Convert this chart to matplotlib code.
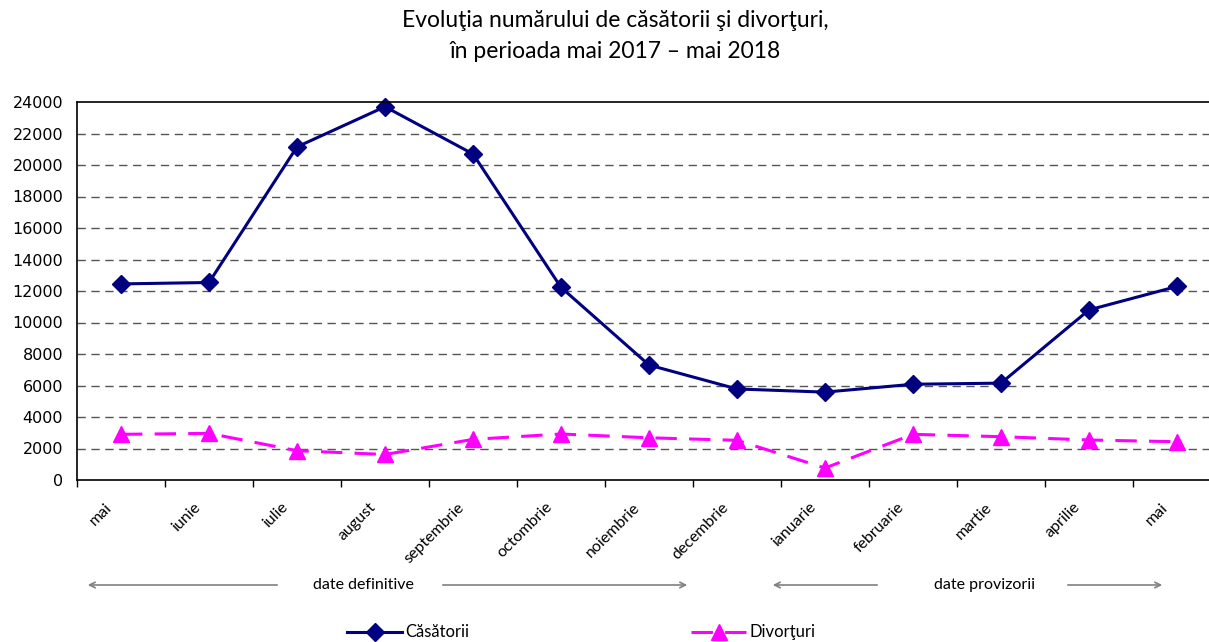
import matplotlib.pyplot as plt
import matplotlib.transforms as mtransforms
import numpy as np

# data
luni = ["mai", "iunie", "iulie", "august", "septembrie", "octombrie", "noiembrie",
        "decembrie", "ianuarie", "februarie", "martie", "aprilie", "mai"]
casatorii = [12450, 12540, 21150, 23700, 20700, 12230, 7300,
             5780, 5580, 6080, 6150, 10800, 12290]
divorturi = [2900, 2960, 1860, 1620, 2580, 2920, 2680,
             2520, 760, 2900, 2750, 2540, 2430]

fig = plt.figure(figsize=(12.09, 6.42), dpi=100)
# the plot area runs a bit past the right edge, as in the reference
ax = fig.add_axes([77 / 1209, 1 - 480 / 642, 1144 / 1209, 378 / 642])

x = np.arange(len(luni))
ax.plot(x, casatorii, color='#000080', lw=2.2, marker='D', markersize=9,
        label='Căsătorii', clip_on=False)
ax.plot(x, divorturi, color='#FF00FF', lw=2.2, marker='^', markersize=11,
        dashes=(7, 4), label='Divorţuri', clip_on=False)

ax.set_xlim(-0.5, len(luni) - 0.5)
ax.set_ylim(0, 24000)
ax.set_yticks(np.arange(0, 24001, 2000))
ax.tick_params(axis='y', length=0, labelsize=11.5, pad=10)

ax.set_xticks(x)
ax.set_xticklabels(luni, rotation=45, ha='right', va='center', rotation_mode='anchor',
                   fontsize=11.5, family='Lato')
ax.tick_params(axis='x', which='major', length=0, pad=18)
shift = mtransforms.ScaledTranslation(-11 / 100, 0, fig.dpi_scale_trans)
for lab in ax.get_xticklabels():
    lab.set_transform(lab.get_transform() + shift)
ax.set_xticks(np.arange(-0.5, len(luni), 1), minor=True)
ax.tick_params(axis='x', which='minor', length=5, width=1, direction='out')

for v in range(2000, 24000, 2000):
    ax.axhline(v, color='#555555', lw=1, dashes=(6, 4), zorder=0)

ax.spines['right'].set_visible(False)
for s in ['left', 'bottom', 'top']:
    ax.spines[s].set_linewidth(1.2)

fig.text(0.509, 0.985, 'Evoluţia numărului de căsătorii şi divorţuri,\nîn perioada mai 2017 – mai 2018',
         ha='center', va='top', fontsize=16.5, family='Lato', linespacing=1.6)

# arrows for data periods
ay = 1 - 585 / 642
arrow = dict(arrowstyle='->', color='gray', lw=1.2)
ax.annotate('', xy=(85 / 1209, ay), xytext=(280 / 1209, ay), xycoords='figure fraction', arrowprops=arrow)
ax.annotate('', xy=(690 / 1209, ay), xytext=(440 / 1209, ay), xycoords='figure fraction', arrowprops=arrow)
ax.annotate('', xy=(770 / 1209, ay), xytext=(880 / 1209, ay), xycoords='figure fraction', arrowprops=arrow)
ax.annotate('', xy=(1165 / 1209, ay), xytext=(1065 / 1209, ay), xycoords='figure fraction', arrowprops=arrow)
fig.text(363 / 1209, ay, 'date definitive', ha='center', va='center', fontsize=11.5, family='Lato')
fig.text(985 / 1209, ay, 'date provizorii', ha='center', va='center', fontsize=11.5, family='Lato')

fig.legend(loc='center', bbox_to_anchor=(0.481, 0.015), ncol=2, frameon=False,
           handlelength=3.3, columnspacing=13.3, handletextpad=0.2,
           prop={'family': 'Lato', 'size': 12})

fig.savefig('out.png', dpi=100)
